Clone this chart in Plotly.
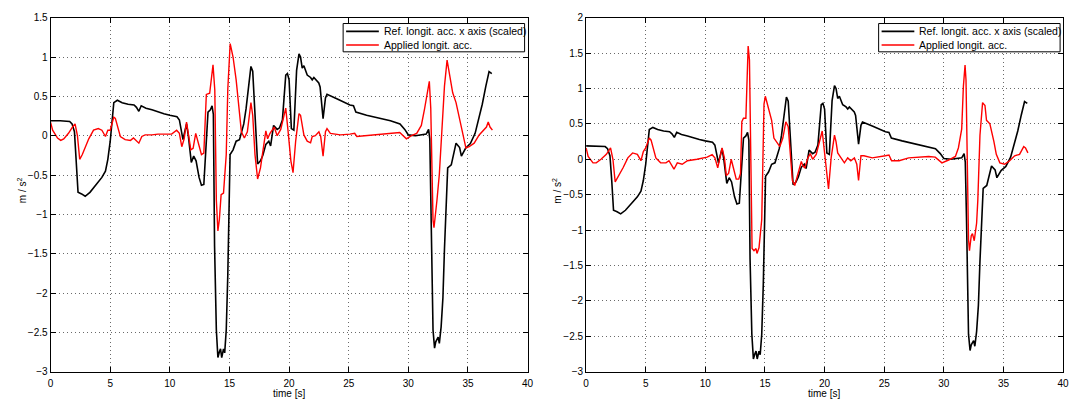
import plotly.graph_objects as go

# Reference longitudinal acceleration (x axis, scaled) — same in both panels
ref_t = [0, 0.8, 1.6, 1.8, 2.0, 2.15, 2.3, 2.6, 2.9, 3.3, 3.7, 4.0, 4.3, 4.6, 4.8, 5.0,
         5.15, 5.3, 5.6, 6.0, 6.5, 7.0, 7.2, 7.4, 7.6, 7.8, 8.0, 8.5, 9.0, 9.5, 10.0,
         10.6, 10.8, 10.98, 11.1, 11.25, 11.4, 11.55, 11.67, 11.8, 12.0, 12.2, 12.45,
         12.65, 12.85, 13.0, 13.2, 13.4, 13.54, 13.65, 13.75, 13.9, 14.03, 14.15, 14.25,
         14.35, 14.5, 14.6, 14.73, 14.86, 14.95, 15.05, 15.3, 15.56, 15.84, 16.0, 16.2,
         16.39, 16.6, 16.8, 16.95, 17.14, 17.36, 17.6, 17.8, 18.05, 18.3, 18.45, 18.7,
         19.0, 19.2, 19.44, 19.72, 19.86, 20.0, 20.19, 20.4, 20.63, 20.83, 20.96, 21.1,
         21.24, 21.52, 21.8, 21.94, 22.08, 22.3, 22.49, 22.6, 22.85, 23.05, 23.18, 24.0,
         25.1, 25.4, 25.6, 26.5, 27.6, 28.5, 29.3, 29.7, 30.0, 30.6, 31.5, 31.7, 31.8,
         31.9, 32.0, 32.07, 32.2, 32.3, 32.5, 32.6, 32.75, 32.9, 33.03, 33.17, 33.3,
         33.6, 33.75, 34.0, 34.3, 34.45, 34.8, 35.2, 35.6, 35.94, 36.2, 36.5, 36.77, 37.0]
ref_acc = [0.19, 0.19, 0.18, 0.15, 0.05, -0.3, -0.72, -0.74, -0.77, -0.72, -0.64, -0.59,
           -0.53, -0.45, -0.3, -0.07, 0.2, 0.42, 0.45, 0.42, 0.40, 0.39, 0.36, 0.31, 0.38,
           0.36, 0.35, 0.33, 0.30, 0.28, 0.26, 0.24, 0.2, 0.05, -0.05, 0.05, 0.15, 0.0,
           -0.16, -0.34, -0.26, -0.32, -0.53, -0.63, -0.62, -0.24, 0.30, 0.33, 0.38, 0.27,
           -1.40, -2.47, -2.82, -2.75, -2.71, -2.82, -2.71, -2.76, -2.47, -1.77, -0.98,
           -0.24, -0.18, -0.07, -0.05, 0.03, 0.15, 0.34, 0.6, 0.88, 0.82, 0.26, -0.36,
           -0.32, -0.25, -0.11, -0.07, -0.13, 0.13, 0.08, 0.1, 0.2, 0.77, 0.79, 0.71, 0.09,
           0.07, 0.83, 1.04, 1.0, 0.86, 0.89, 0.77, 0.74, 0.71, 0.74, 0.70, 0.67, 0.62,
           0.215, 0.48, 0.525, 0.47, 0.39, 0.38, 0.30, 0.26, 0.22, 0.19, 0.15, 0.08, 0.01,
           0.0, 0.02, 0.08, -0.04, -0.82, -1.56, -2.47, -2.70, -2.62, -2.56, -2.64, -2.43,
           -2.06, -1.44, -0.82, -0.41, -0.37, -0.25, -0.095, -0.15, -0.26, -0.16, -0.1,
           0.03, 0.24, 0.40, 0.63, 0.815, 0.79]

# Applied longitudinal acceleration, first run
left_t = [0, 0.17, 0.58, 0.85, 1.1, 1.5, 1.83, 2.05, 2.25, 2.44, 2.66, 2.94, 3.2, 3.6,
          4.0, 4.3, 4.6, 4.8, 5.0, 5.3, 5.43, 5.85, 6.25, 6.7, 6.95, 7.4, 7.65, 7.93,
          8.5, 9.0, 10.15, 10.57, 10.8, 11.0, 11.2, 11.4, 11.5, 11.76, 11.95, 12.17,
          12.35, 12.65, 12.85, 13.06, 13.34, 13.62, 13.77, 13.9, 14.03, 14.15, 14.3,
          14.5, 14.73, 14.86, 15.06, 15.3, 15.56, 15.84, 16.0, 16.25, 16.5, 16.8, 16.95,
          17.14, 17.36, 17.6, 17.8, 18.05, 18.2, 18.4, 18.75, 19.0, 19.3, 19.72, 19.9,
          20.15, 20.33, 20.55, 20.83, 20.96, 21.24, 21.52, 21.8, 21.94, 22.2, 22.5,
          22.65, 22.85, 23.05, 23.18, 23.46, 24.3, 25.1, 25.5, 25.68, 26.5, 27.35, 28.2,
          29.28, 29.84, 30.26, 30.7, 31.09, 31.36, 31.64, 31.76, 31.88, 31.95, 32.07,
          32.15, 32.3, 32.4, 32.6, 32.85, 33.03, 33.25, 33.45, 33.72, 34.0, 34.3, 34.6,
          34.83, 35.1, 35.52, 35.94, 36.35, 36.55, 36.7, 36.85, 37.05]
left_acc = [0.17, 0.07, -0.03, -0.06, -0.04, 0.03, 0.11, 0.15, 0.0, -0.30, -0.24, -0.14,
            -0.04, 0.07, 0.09, 0.07, -0.01, 0.07, 0.07, 0.236, 0.22, -0.01, -0.05, -0.06,
            -0.03, -0.095, -0.01, 0.01, 0.01, 0.02, 0.02, 0.07, 0.03, -0.14, -0.04, 0.174,
            0.09, -0.18, -0.16, 0.03, -0.07, -0.24, -0.22, 0.525, 0.54, 0.90, 0.58, -0.82,
            -1.21, -1.07, -0.75, -0.73, -0.24, 0.59, 1.17, 1.0, 0.71, 0.26, 0.05, -0.03,
            0.05, 0.42, 0.26, -0.24, -0.55, -0.41, -0.2, 0.06, -0.04, 0.03, 0.11, 0.0,
            0.08, 0.35, 0.08, -0.32, -0.47, -0.07, 0.28, 0.26, 0.01, -0.07, -0.09, -0.01,
            0.0, 0.05, -0.01, -0.26, 0.05, 0.09, 0.03, 0.01, 0.02, 0.03, -0.01, 0.0, 0.02,
            0.03, 0.04, -0.04, 0.0, 0.03, 0.13, 0.34, 0.63, 0.69, 0.35, -0.3, -1.07, -1.17,
            -0.98, -0.82, -0.49, 0.09, 0.63, 0.96, 0.77, 0.545, 0.42, 0.215, 0.01, -0.157,
            -0.14, -0.095, 0.01, 0.07, 0.11, 0.174, 0.11, 0.07]

# Applied longitudinal acceleration, second run
right_t = [0, 0.17, 0.58, 0.85, 1.25, 1.7, 2.05, 2.25, 2.44, 2.66, 3.1, 3.5, 3.9, 4.3,
           4.6, 4.8, 5.0, 5.3, 5.45, 5.85, 6.25, 6.7, 6.95, 7.37, 7.65, 8.06, 8.5, 9.3,
           10.15, 10.57, 10.8, 11.04, 11.26, 11.4, 11.6, 11.76, 11.95, 12.17, 12.35,
           12.59, 12.8, 12.95, 13.06, 13.2, 13.4, 13.48, 13.59, 13.7, 13.8, 13.85, 13.92,
           14.08, 14.25, 14.33, 14.5, 14.73, 14.78, 14.81, 14.92, 15.03, 15.28, 15.56,
           15.75, 16.0, 16.25, 16.5, 16.75, 16.95, 17.14, 17.3, 17.5, 17.8, 18.05, 18.2,
           18.35, 18.6, 18.8, 19.0, 19.3, 19.8, 20.0, 20.19, 20.33, 20.55, 20.83, 20.96,
           21.1, 21.38, 21.66, 21.94, 22.2, 22.5, 22.7, 22.85, 23.05, 23.3, 24.0, 25.1,
           25.4, 25.62, 26.25, 27.05, 27.9, 28.73, 29.28, 29.84, 30.4, 30.97, 31.22, 31.5,
           31.64, 31.78, 31.86, 31.95, 32.0, 32.07, 32.15, 32.3, 32.4, 32.55, 32.75,
           32.85, 33.03, 33.25, 33.45, 33.58, 33.86, 34.0, 34.2, 34.4, 34.7, 35.1, 35.52,
           35.94, 36.35, 36.7, 36.85, 37.05]
right_acc = [0.16, 0.04, -0.05, -0.05, 0.0, 0.07, 0.16, 0.0, -0.32, -0.26, -0.12, 0.02,
             0.09, 0.07, -0.02, 0.11, 0.16, 0.30, 0.27, 0.02, -0.05, -0.05, -0.02, -0.14,
             -0.05, -0.07, -0.02, 0.0, 0.03, 0.065, 0.02, -0.12, 0.06, 0.16, 0.02, -0.23,
             -0.2, 0.0, -0.12, -0.28, -0.28, -0.2, 0.53, 0.58, 0.58, 1.12, 1.60, 1.4, 0.39,
             -0.5, -1.26, -1.29, -1.26, -1.33, -1.25, -0.85, -0.44, 0.2, 0.78, 0.89, 0.71,
             0.55, 0.30, 0.24, 0.18, 0.30, 0.53, 0.46, 0.07, -0.30, -0.37, -0.2, -0.03,
             -0.1, -0.12, 0.02, 0.08, 0.0, 0.07, 0.40, 0.1, -0.28, -0.42, 0.02, 0.34, 0.25,
             0.09, 0.02, -0.05, 0.02, -0.02, 0.02, -0.07, -0.30, 0.05, 0.05, 0.02, 0.05,
             0.06, -0.02, -0.02, 0.02, 0.03, 0.04, 0.03, -0.05, -0.01, 0.04, 0.16, 0.43,
             1.03, 1.33, 1.12, 0.34, -0.58, -1.13, -1.29, -1.08, -1.05, -1.15, -0.9, -0.58,
             0.34, 0.80, 0.76, 0.55, 0.5, 0.41, 0.25, 0.07, -0.05, -0.07, -0.02, 0.05, 0.07,
             0.18, 0.16, 0.09]

REF_NAME = "Ref. longit. acc. x axis (scaled)"
APP_NAME = "Applied longit. acc."
X_TITLE = "time [s]"
Y_TITLE = "m / s<sup>2</sup>"
REF_COLOR = "#000000"
APP_COLOR = "#ff0000"

W, H = 1078, 405
FONT = "Liberation Sans, Arial, Helvetica, sans-serif"


def px_x(p):
    return p / W


def px_y(p):
    return (H - p) / H


fig = go.Figure()

panels = [
    (left_t, left_acc, "x", "y"),
    (right_t, right_acc, "x2", "y2"),
]
for t_app, a_app, xa, ya in panels:
    fig.add_trace(go.Scatter(x=ref_t, y=ref_acc, mode="lines", name=REF_NAME,
                             line=dict(color=REF_COLOR, width=1.6),
                             xaxis=xa, yaxis=ya, showlegend=False))
    fig.add_trace(go.Scatter(x=t_app, y=a_app, mode="lines", name=APP_NAME,
                             line=dict(color=APP_COLOR, width=1.4),
                             xaxis=xa, yaxis=ya, showlegend=False))

axis_common = dict(
    showline=True, linecolor="#000000", linewidth=1, mirror="ticks",
    ticks="inside", ticklen=5, tickcolor="#000000",
    showgrid=True, gridcolor="#6a6a6a", griddash="1px,3px", gridwidth=1,
    zeroline=False, tickfont=dict(size=10, color="#000000", family=FONT),
)

y_dom = [px_y(376), px_y(13)]
fig.update_layout(
    width=W, height=H,
    margin=dict(l=0, r=0, t=0, b=0),
    paper_bgcolor="white", plot_bgcolor="white",
    font=dict(family=FONT, size=10, color="#000000"),
    showlegend=False,
    xaxis=dict(domain=[px_x(48), px_x(529)], range=[0, 40],
               tickvals=list(range(0, 41, 5)), ticklabelstandoff=2,
               anchor="y", **axis_common),
    yaxis=dict(domain=y_dom, range=[-3, 1.5], dtick=0.5, anchor="x", **axis_common),
    xaxis2=dict(domain=[px_x(588), px_x(1069)], range=[0, 40],
                tickvals=list(range(0, 41, 5)), ticklabelstandoff=2,
                anchor="y2", **axis_common),
    yaxis2=dict(domain=y_dom, range=[-3, 2], dtick=0.5, anchor="x2", **axis_common),
)

# axis titles and boxed legends for each panel
shapes = []
annotations = []
for off in (0, 540):
    annotations.append(dict(text=X_TITLE, x=px_x(288 + off), y=px_y(398),
                            xref="paper", yref="paper", showarrow=False,
                            xanchor="center", yanchor="middle",
                            font=dict(size=10, family=FONT)))
    annotations.append(dict(text=Y_TITLE, x=px_x(19 + off), y=px_y(190),
                            xref="paper", yref="paper", showarrow=False,
                            textangle=-90, xanchor="center", yanchor="middle",
                            font=dict(size=10, family=FONT)))
    # legend frame
    shapes.append(dict(type="rect", xref="paper", yref="paper",
                       x0=px_x(343 + off), x1=px_x(526 + off),
                       y0=px_y(48), y1=px_y(19),
                       line=dict(color="#000000", width=1), fillcolor="white",
                       layer="above"))
    for name, color, row in ((REF_NAME, REF_COLOR, 27), (APP_NAME, APP_COLOR, 41)):
        shapes.append(dict(type="line", xref="paper", yref="paper",
                           x0=px_x(346 + off), x1=px_x(379 + off),
                           y0=px_y(row), y1=px_y(row),
                           line=dict(color=color, width=1.6), layer="above"))
        annotations.append(dict(text=name, x=px_x(382 + off), y=px_y(row),
                                xref="paper", yref="paper", showarrow=False,
                                xanchor="left", yanchor="middle",
                                font=dict(size=10.5, family=FONT)))

fig.update_layout(shapes=shapes, annotations=annotations)

fig.write_html("out.html")
